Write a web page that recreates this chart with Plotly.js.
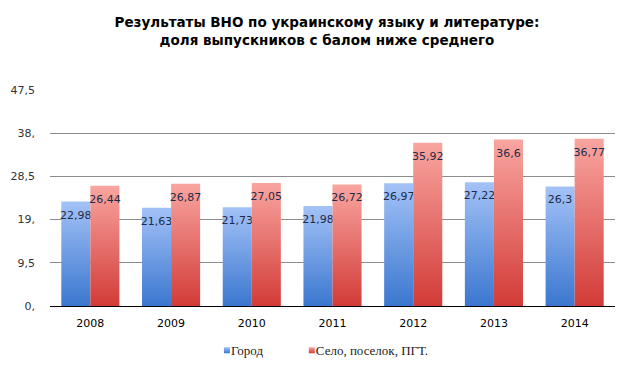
<!DOCTYPE html>
<html><head><meta charset="utf-8">
<script src="https://cdn.plot.ly/plotly-3.0.1.min.js"></script>
<style>body{margin:0;background:#fff}#chart{width:624px;height:366px}</style>
</head><body><div id="chart"></div>
<script>
const years = ['2008','2009','2010','2011','2012','2013','2014'];
const city = [22.98, 21.63, 21.73, 21.98, 26.97, 27.22, 26.3];
const village = [26.44, 26.87, 27.05, 26.72, 35.92, 36.6, 36.77];
const cityLabels = ['22,98','21,63','21,73','21,98','26,97','27,22','26,3'];
const villageLabels = ['26,44','26,87','27,05','26,72','35,92','36,6','36,77'];
const yTickVals = [0, 9.5, 19, 28.5, 38, 47.5];
const yTickText = ['0,', '9,5', '19,', '28,5', '38,', '47,5'];

const labelFont = {family: 'DejaVu Sans, Verdana, sans-serif', size: 11, color: '#1f2a48'};
const legendFont = {family: 'Liberation Serif, Times New Roman, serif', size: 13, color: '#222'};
const traces = [
  {type: 'bar', name: 'Город', x: years, y: city, text: cityLabels, textposition: 'inside',
   insidetextanchor: 'end', textangle: 0, constraintext: 'none', textfont: labelFont,
   marker: {color: '#6f9ae6'}, hoverinfo: 'none', legend: 'legend'},
  {type: 'bar', name: 'Село, поселок, ПГТ.', x: years, y: village, text: villageLabels, textposition: 'inside',
   insidetextanchor: 'end', textangle: 0, constraintext: 'none', textfont: labelFont,
   marker: {color: '#e76e6a'}, hoverinfo: 'none', legend: 'legend2'}
];
const layout = {
  width: 624, height: 366,
  margin: {l: 50, r: 9, t: 90, b: 60, autoexpand: false},
  paper_bgcolor: '#fff', plot_bgcolor: '#fff',
  title: {text: '<b>Результаты ВНО по украинскому языку и литературе:<br>доля выпускников с балом ниже среднего</b>',
    font: {family: 'DejaVu Sans, Verdana, sans-serif', size: 13.5, color: '#000'},
    x: 0.524, xanchor: 'center', yref: 'container', y: 0.926, yanchor: 'middle'},
  barmode: 'group', bargap: 0.28, bargroupgap: 0,
  showlegend: true,
  legend: {orientation: 'h', xref: 'container', x: 0.306, xanchor: 'left', yref: 'container', y: 0.043, yanchor: 'middle',
    font: legendFont},
  legend2: {orientation: 'h', xref: 'container', x: 0.442, xanchor: 'left', yref: 'container', y: 0.043, yanchor: 'middle',
    font: legendFont},
  xaxis: {type: 'category', showgrid: false, showline: true, linecolor: '#000', linewidth: 1,
    ticks: '', ticklabelstandoff: 7,
    tickfont: {family: 'DejaVu Sans, Verdana, sans-serif', size: 11, color: '#000'}},
  yaxis: {range: [0, 47.5], tickvals: yTickVals, ticktext: yTickText, showgrid: true,
    gridcolor: '#8c8c8c', gridwidth: 1, zeroline: false, showline: false, ticks: '',
    ticklabelstandoff: 14,
    tickfont: {family: 'DejaVu Sans, Tahoma, sans-serif', size: 11, color: '#333'}}
};
Plotly.newPlot('chart', traces, layout, {staticPlot: true}).then(function(gd){
  const svg = gd.querySelector('svg.main-svg');
  const ns = 'http://www.w3.org/2000/svg';
  const defs = document.createElementNS(ns, 'defs');
  function grad(id, top, bottom){
    const g = document.createElementNS(ns, 'linearGradient');
    g.setAttribute('id', id); g.setAttribute('x1','0'); g.setAttribute('y1','0');
    g.setAttribute('x2','0'); g.setAttribute('y2','1');
    [[0, top],[1, bottom]].forEach(function(s){
      const st = document.createElementNS(ns, 'stop');
      st.setAttribute('offset', s[0]); st.setAttribute('stop-color', s[1]);
      g.appendChild(st);
    });
    defs.appendChild(g);
  }
  grad('gBlue', '#a3c2f7', '#3b77cf');
  grad('gRed', '#f9a5a0', '#d23b37');
  svg.insertBefore(defs, svg.firstChild);
  const bars = gd.querySelectorAll('.barlayer .trace.bars');
  const ids = ['gBlue', 'gRed'];
  bars.forEach(function(tr, i){
    tr.querySelectorAll('.point path').forEach(function(p){ p.style.fill = 'url(#' + ids[i] + ')'; });
    tr.querySelectorAll('.point text').forEach(function(t){
      const tf = t.getAttribute('transform') || '';
      t.setAttribute('transform', 'translate(0,4) ' + tf);
    });
  });
  const legs = [gd.querySelector('.legend'), gd.querySelector('.legend2')];
  legs.forEach(function(lg, i){
    if (!lg) return;
    lg.querySelectorAll('.legendpoints path').forEach(function(p){
      p.style.fill = 'url(#' + ids[i] + ')';
      p.style.stroke = 'none';
      p.setAttribute('d', 'M3,3H-3V-3H3Z');
      p.setAttribute('transform', 'translate(36,0)');
    });
  });
});
</script></body></html>
